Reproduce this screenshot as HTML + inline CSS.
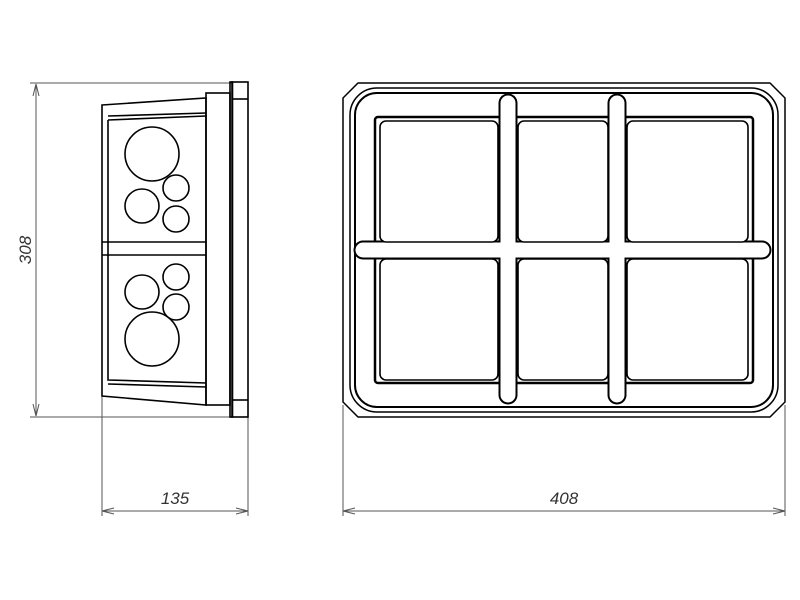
<!DOCTYPE html>
<html><head><style>body{margin:0;background:#fff}svg{display:block}</style></head><body>
<svg width="800" height="600" viewBox="0 0 800 600" xmlns="http://www.w3.org/2000/svg" font-family="Liberation Sans, sans-serif">
<g stroke="#555" stroke-width="1" fill="none">
<line x1="30" y1="83" x2="232" y2="83"/>
<line x1="30" y1="417" x2="248" y2="417"/>
<line x1="36" y1="84" x2="36" y2="416"/>
<line x1="102" y1="395" x2="102" y2="516"/>
<line x1="248" y1="417" x2="248" y2="516"/>
<line x1="102" y1="511" x2="248" y2="511"/>
<line x1="343" y1="405" x2="343" y2="516"/>
<line x1="785" y1="405" x2="785" y2="516"/>
<line x1="343" y1="511" x2="785" y2="511"/>
</g>
<g fill="none" stroke="#555">
<path d="M33 96 L36 84 L39 96"/><path d="M33 404 L36 416 L39 404"/>
<path d="M114 508 L102 511 L114 514"/><path d="M236 508 L248 511 L236 514"/>
<path d="M355 508 L343 511 L355 514"/><path d="M773 508 L785 511 L773 514"/>
</g>
<text x="175" y="504" font-size="17" font-style="italic" text-anchor="middle" fill="#333">135</text>
<text x="564" y="504" font-size="17" font-style="italic" text-anchor="middle" fill="#333">408</text>
<text x="0" y="0" font-size="17" font-style="italic" text-anchor="middle" fill="#333" transform="translate(31,250) rotate(-90)">308</text>
<g stroke="#000" stroke-width="1.6" fill="none">
<path d="M102 105 L206 98 L206 405 L102 396 Z"/>
<path d="M108 120 L206 116 M108 120 L108 380 L206 383 M108 242 L206 242 M108 255 L206 255 M102 242 L108 242 M102 255 L108 255"/>
<path d="M108 116 L206 113"/>
<path d="M108 384 L206 387"/>
<rect x="206" y="93" width="24" height="312"/>
<rect x="230" y="82" width="2.5" height="335"/>
<rect x="232" y="82" width="16" height="335"/>
<line x1="232" y1="99" x2="248" y2="99"/><line x1="232" y1="400" x2="248" y2="400"/>
<circle cx="152" cy="154" r="27"/><circle cx="142" cy="206" r="17"/>
<circle cx="176" cy="188" r="13"/><circle cx="176" cy="219" r="13"/>
<circle cx="176" cy="277" r="13"/><circle cx="142" cy="292" r="17"/>
<circle cx="176" cy="307" r="13"/><circle cx="152" cy="339" r="27"/>
</g>
<g stroke="#000" fill="none">
<path d="M358 83 L770 83 L785 98 L785 402 L770 417 L358 417 L343 402 L343 98 Z" stroke-width="1.5"/>
<rect x="350" y="88" width="428" height="324" rx="27" stroke-width="1.5"/>
<rect x="355" y="93" width="418" height="314" rx="22" stroke-width="2"/>
<rect x="375" y="117" width="378" height="266" rx="3" stroke-width="2.5"/>
</g>
<g stroke-linecap="round" fill="none">
<path d="M508 103 L508 395 M617 103 L617 395 M363 250 L762 250" stroke="#000" stroke-width="19"/>
<path d="M508 103 L508 395 M617 103 L617 395 M363 250 L762 250" stroke="#fff" stroke-width="15"/>
</g>
<g stroke="#000" stroke-width="1.6" fill="#fff">
<rect x="380" y="121" width="118" height="121" rx="6"/>
<rect x="518" y="121" width="90" height="121" rx="6"/>
<rect x="627" y="121" width="121" height="121" rx="6"/>
<rect x="380" y="259" width="118" height="121" rx="6"/>
<rect x="518" y="259" width="90" height="121" rx="6"/>
<rect x="627" y="259" width="121" height="121" rx="6"/>
</g>
</svg>
</body></html>
